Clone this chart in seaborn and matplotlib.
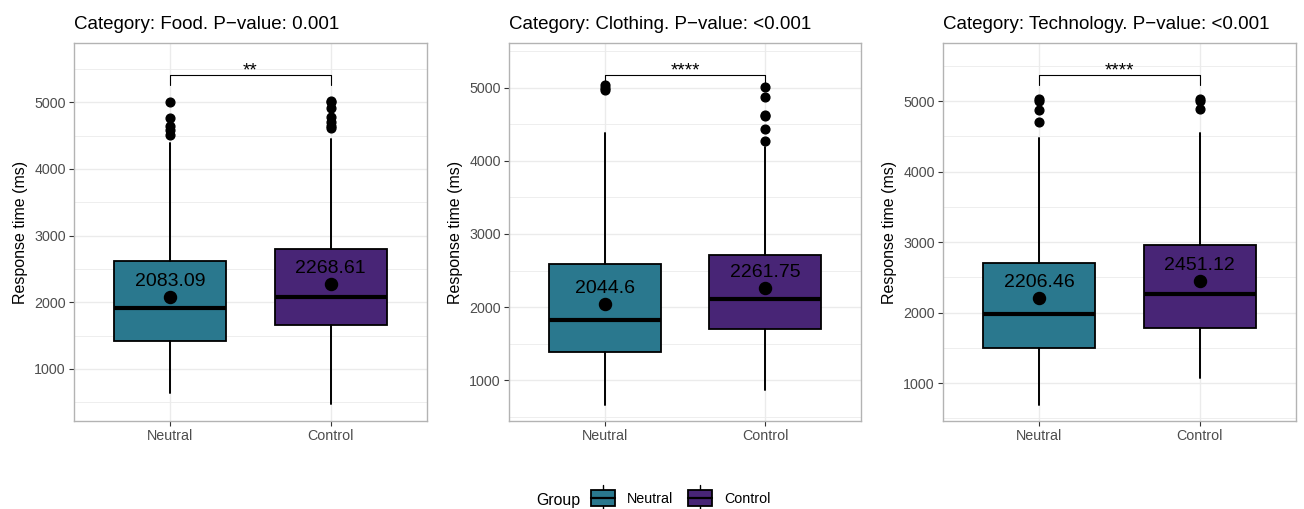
import numpy as np
import matplotlib
matplotlib.use("Agg")
import matplotlib.pyplot as plt
import seaborn as sns
from matplotlib.legend_handler import HandlerBase
from matplotlib.patches import Rectangle
from matplotlib.lines import Line2D
from matplotlib.ticker import MultipleLocator

# ---- data ----
categories = ["Food", "Clothing", "Technology"]
p_values = ["0.001", "<0.001", "<0.001"]
signif = ["**", "****", "****"]
groups = ["Neutral", "Control"]
colors = ["#2A788E", "#482576"]

# per category: [Neutral, Control]
q1 = [[1415, 1655], [1383, 1697], [1497, 1785]]
median = [[1910, 2085], [1829, 2116], [1979, 2267]]
q3 = [[2620, 2800], [2594, 2713], [2697, 2962]]
whisk_lo = [[635, 470], [667, 863], [693, 1076]]
whisk_hi = [[4385, 4450], [4380, 4190], [4475, 4546]]
means = [[2083.09, 2268.61], [2044.6, 2261.75], [2206.46, 2451.12]]
outliers = [
    [[5000, 4760, 4645, 4585, 4510], [5020, 5000, 4910, 4775, 4710, 4645, 4610]],
    [[5030, 5000, 4964], [5014, 4872, 4631, 4613, 4440, 4266]],
    [[5024, 5000, 4868, 4697], [5024, 5000, 4882]],
]
bracket_y = [5410, 5173, 5364]
y_limits = [(220, 5889), (444, 5610), (461, 5823)]

sns.set_theme(style="whitegrid")
plt.rcParams["font.family"] = ["Liberation Sans", "DejaVu Sans"]
plt.rcParams["text.color"] = "black"
plt.rcParams["axes.labelcolor"] = "black"

fig = plt.figure(figsize=(13.04, 5.09), dpi=100)
lefts = [74, 509, 943]
widths_px = [353, 352, 353]
H = 509.0
W = 1304.0


class BoxHandler(HandlerBase):
    def create_artists(self, legend, orig_handle, xdescent, ydescent, width, height, fontsize, trans):
        cy = -ydescent + height / 2
        bh = 6
        x0 = -xdescent
        cx = x0 + width / 2
        fc = orig_handle.get_facecolor()
        arts = [
            Line2D([cx, cx], [cy + bh, cy + bh + 3.5], color="black", lw=1.0, transform=trans),
            Line2D([cx, cx], [cy - bh, cy - bh - 3.5], color="black", lw=1.0, transform=trans),
            Rectangle((x0, cy - bh), width, 2 * bh, facecolor=fc, edgecolor="black", lw=1.3, transform=trans),
            Line2D([x0, x0 + width], [cy, cy], color="black", lw=1.6, transform=trans),
        ]
        return arts


for i, cat in enumerate(categories):
    ax = fig.add_axes([lefts[i] / W, (H - 421) / H, widths_px[i] / W, 378 / H])
    stats = []
    for g in range(2):
        stats.append(dict(med=median[i][g], q1=q1[i][g], q3=q3[i][g],
                          whislo=whisk_lo[i][g], whishi=whisk_hi[i][g],
                          fliers=outliers[i][g], label=groups[g]))
    bp = ax.bxp(stats, positions=[0, 1], widths=0.7, showcaps=False, patch_artist=True,
                boxprops=dict(edgecolor="black", linewidth=1.3),
                medianprops=dict(color="black", linewidth=3.0),
                whiskerprops=dict(color="black", linewidth=1.4),
                flierprops=dict(marker="o", markerfacecolor="black", markeredgecolor="black",
                                markersize=6.3, linestyle="none"),
                zorder=2)
    for patch, c in zip(bp["boxes"], colors):
        patch.set_facecolor(c)

    # means
    ax.scatter([0, 1], means[i], s=75, color="black", zorder=4)
    for g in range(2):
        ax.annotate(f"{means[i][g]:g}", (g, means[i][g]), xytext=(0, 5), textcoords="offset points",
                    ha="center", va="bottom", fontsize=14, color="black", zorder=5)

    # significance bracket
    yb = bracket_y[i]
    tip = (y_limits[i][1] - y_limits[i][0]) * 0.026
    ax.plot([0, 0, 1, 1], [yb - tip, yb, yb, yb - tip], color="black", lw=0.8, zorder=3)
    ax.annotate(signif[i], (0.5, yb), xytext=(0, -3), textcoords="offset points",
                ha="center", va="bottom", fontsize=13.5, color="black")

    ax.set_xlim(-0.6, 1.6)
    ax.set_ylim(*y_limits[i])
    ax.set_xticks([0, 1])
    ax.set_xticklabels(groups)
    ax.yaxis.set_major_locator(MultipleLocator(1000))
    ax.yaxis.set_minor_locator(MultipleLocator(500))
    ax.grid(which="major", color="#EBEBEB", linewidth=1.0)
    ax.grid(which="minor", axis="y", color="#EBEBEB", linewidth=0.6)
    ax.set_axisbelow(True)
    for sp in ax.spines.values():
        sp.set_color("#B3B3B3")
        sp.set_linewidth(1.0)
    ax.tick_params(axis="both", which="major", length=3.5, width=0.8, color="#333333",
                   labelcolor="#4D4D4D", labelsize=10.3, pad=2.5, bottom=True, left=True)
    ax.tick_params(axis="y", which="minor", length=0)
    ax.set_xlabel("")
    ax.set_ylabel("Response time (ms)", fontsize=11.5, labelpad=4, color="black")
    ax.set_title(f"Category: {cat}. P\u2212value: {p_values[i]}", loc="left", fontsize=13.5, pad=10,
                 color="black")

handles = [Rectangle((0, 0), 1, 1, facecolor=c) for c in colors]
fig.text(536 / W, (H - 500) / H, "Group", fontsize=11.4, ha="left", va="center", color="black")
leg = fig.legend(handles, groups, handler_map={Rectangle: BoxHandler()}, loc="center left",
                 bbox_to_anchor=(591 / W, (H - 499) / H), ncol=2, frameon=False, fontsize=10.3,
                 handlelength=1.68, handletextpad=0.84, columnspacing=1.05, borderpad=0, borderaxespad=0)
for t in leg.get_texts():
    t.set_color("black")

fig.savefig("out.png", dpi=100)
